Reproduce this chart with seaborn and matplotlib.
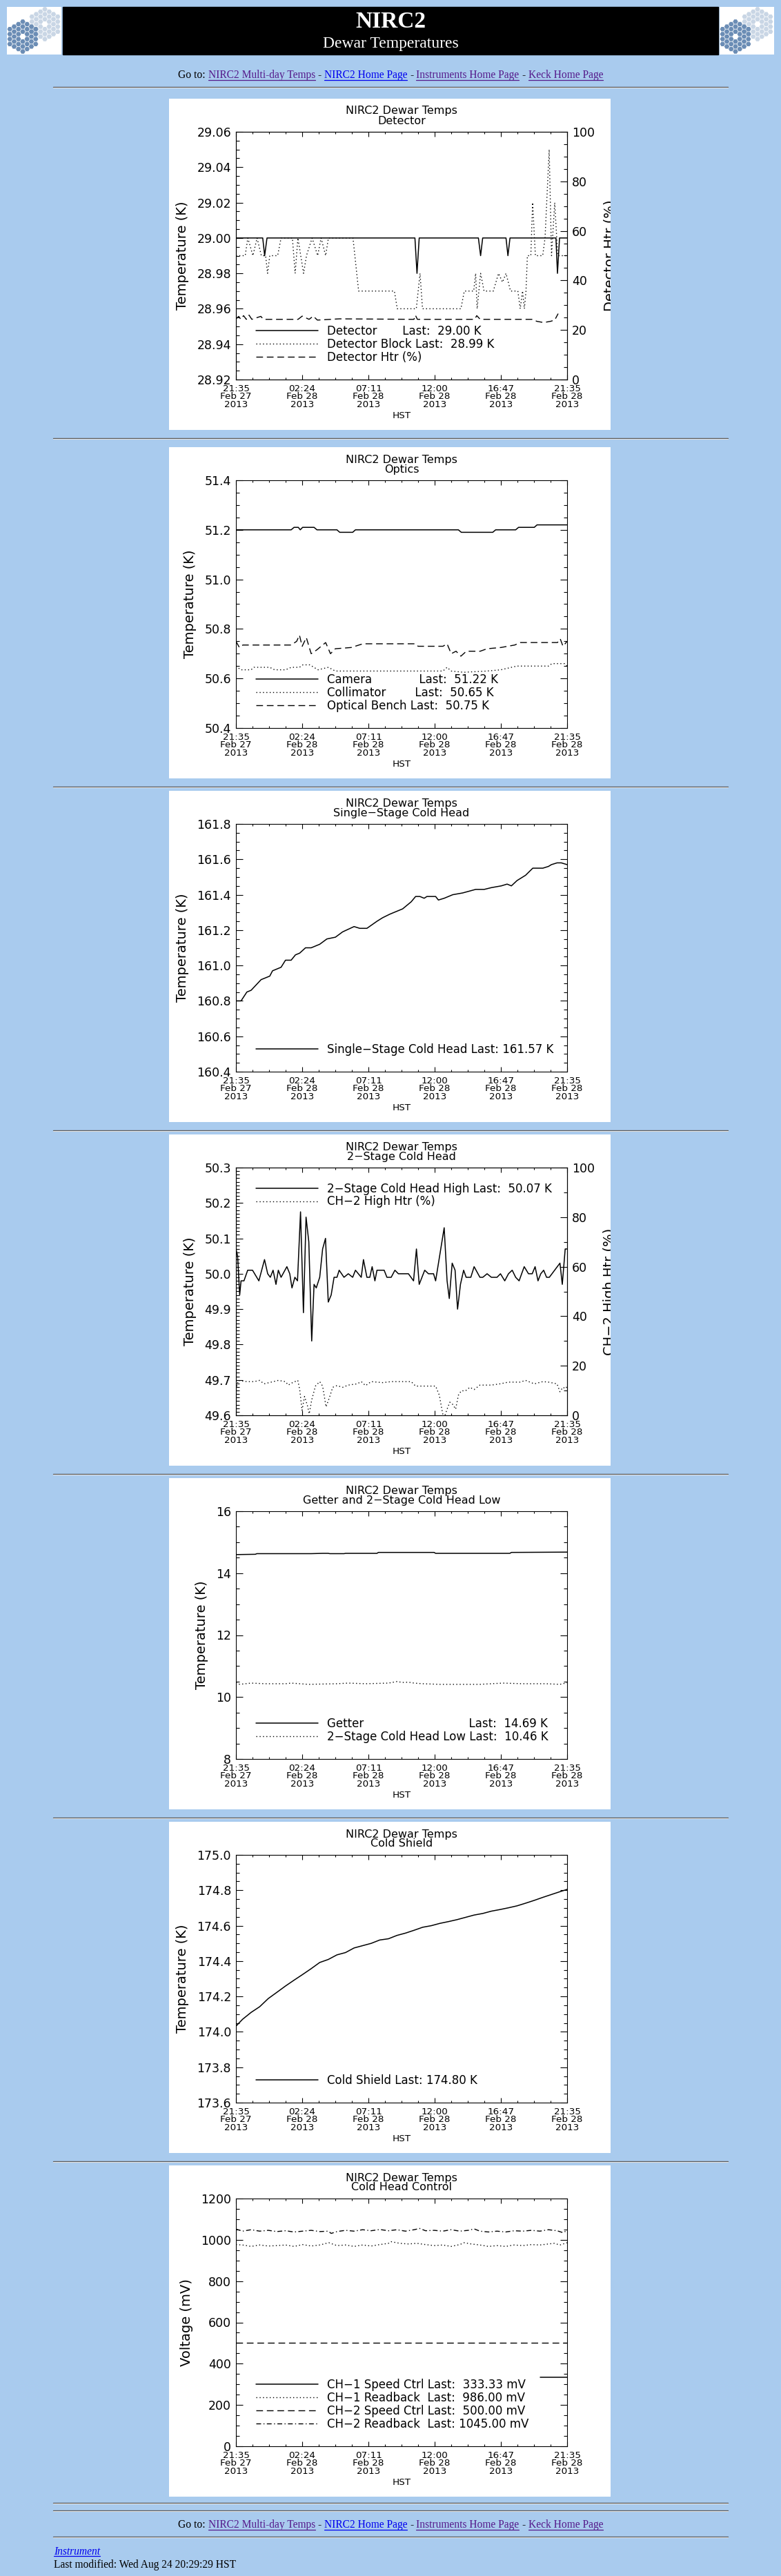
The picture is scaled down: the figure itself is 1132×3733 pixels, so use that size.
import numpy as np
import matplotlib
matplotlib.use("Agg")
import matplotlib.pyplot as plt
import seaborn as sns
from matplotlib.patches import Rectangle, RegularPolygon
from matplotlib.lines import Line2D
from matplotlib.ticker import MultipleLocator, FormatStrFormatter
from matplotlib.transforms import Bbox, TransformedBbox

sns.set_theme(style="ticks", rc={"axes.edgecolor": "black", "xtick.color": "black",
                                 "ytick.color": "black", "text.color": "black",
                                 "axes.labelcolor": "black", "axes.linewidth": 0.8})
plt.rcParams["font.family"] = ["DejaVu Sans"]

# time axis: hours after 21:35 Feb 27 2013 (HST)
x_ticks = [0, 4.8, 9.6, 14.4, 19.2, 24.0]
x_tick_labels = ["21:35\nFeb 27\n2013", "02:24\nFeb 28\n2013", "07:11\nFeb 28\n2013",
                 "12:00\nFeb 28\n2013", "16:47\nFeb 28\n2013", "21:35\nFeb 28\n2013"]

# Detector
det_t = [0, 1.94, 2.08, 2.25, 12.97, 13.12, 13.28, 17.57, 17.73, 17.88,
         19.57, 19.71, 19.86, 23.19, 23.30, 23.45, 24.0]
det_v = [29.00, 29.00, 28.99, 29.00, 29.00, 28.98, 29.00, 29.00, 28.99, 29.00,
         29.00, 28.99, 29.00, 29.00, 28.98, 29.00, 29.00]
block_t = [0, 0.67, 0.86, 1.23, 1.53, 1.84, 2.15, 2.29, 2.45, 3.02, 3.27, 4.09, 4.29,
           4.49, 4.90, 5.11, 5.52, 5.92, 6.17, 6.50, 6.70, 8.48, 8.89, 11.48, 11.69,
           13.07, 13.34, 13.52, 16.30, 16.55, 17.23, 17.37, 17.48, 17.73, 17.98, 18.65,
           19.03, 19.32, 19.57, 19.90, 20.43, 20.60, 20.77, 20.90, 21.02, 21.12, 21.37,
           21.50, 21.70, 22.23, 22.40, 22.70, 22.87, 23.10, 23.32, 24.0]
block_v = [28.99, 28.99, 29.00, 28.99, 29.00, 28.99, 28.99, 28.98, 28.99, 28.99, 29.00,
           29.00, 28.98, 29.00, 28.98, 28.99, 29.00, 28.99, 29.00, 28.99, 29.00, 29.00,
           28.97, 28.97, 28.96, 28.96, 28.98, 28.96, 28.96, 28.97, 28.97, 28.98, 28.96,
           28.98, 28.97, 28.97, 28.98, 28.975, 28.98, 28.97, 28.97, 28.96, 28.97, 28.96,
           28.97, 28.99, 28.99, 29.02, 28.99, 28.99, 29.00, 29.05, 28.99, 29.02, 28.99,
           28.99]
dhtr_t = [0, 0.2, 0.35, 0.55, 0.75, 0.95, 1.15, 1.8, 2.0, 4.5, 4.8, 5.3, 5.6, 5.9, 7.5,
          12.9, 13.0, 13.15, 17.3, 17.45, 17.7, 21.5, 21.8, 22.3, 22.8, 23.1, 23.35]
dhtr_v = [24.5, 25.5, 24.3, 25.8, 24.3, 26.0, 24.3, 25.5, 24.3, 24.3, 25.6, 24.3, 25.6,
          24.0, 24.5, 24.3, 26.0, 24.3, 24.3, 25.8, 24.3, 24.3, 23.5, 23.0, 23.5, 24.0,
          26.6]

# Optics
cam_t = [0, 4.00, 4.21, 4.52, 4.66, 4.83, 5.66, 5.87, 7.32, 7.52, 8.46, 8.66, 16.12,
         16.33, 18.61, 18.82, 20.27, 20.48, 21.62, 21.82, 24.0]
cam_v = [51.20, 51.20, 51.21, 51.21, 51.20, 51.21, 51.21, 51.20, 51.20, 51.19, 51.19,
         51.20, 51.20, 51.19, 51.19, 51.20, 51.20, 51.21, 51.21, 51.22, 51.22]
coll_t = [0, 0.35, 1.1, 1.3, 2.45, 2.8, 3.6, 4.0, 4.6, 4.85, 5.35, 5.95, 6.7, 7.2, 15.0,
          15.3, 15.6, 16.5, 18.2, 19.2, 20.35, 22.65, 22.9, 23.8, 24.0]
coll_v = [50.65, 50.635, 50.635, 50.645, 50.645, 50.635, 50.635, 50.645, 50.645, 50.655,
          50.655, 50.635, 50.645, 50.63, 50.63, 50.645, 50.63, 50.625, 50.63, 50.635,
          50.65, 50.65, 50.66, 50.66, 50.65]
bench_t = [0, 0.25, 0.5, 4.0, 4.4, 4.6, 4.8, 5.1, 5.45, 5.85, 6.5, 6.85, 7.2, 8.35, 9.2,
           13.0, 13.2, 15.0, 15.3, 15.6, 15.95, 16.3, 16.7, 17.7, 18.2, 19.2, 20.2, 20.6,
           23.3, 23.5, 23.7, 24.0]
bench_v = [50.75, 50.725, 50.735, 50.735, 50.75, 50.775, 50.73, 50.765, 50.70, 50.715,
           50.745, 50.70, 50.72, 50.725, 50.74, 50.74, 50.73, 50.73, 50.74, 50.70, 50.71,
           50.69, 50.71, 50.71, 50.72, 50.725, 50.735, 50.745, 50.745, 50.76, 50.73, 50.75]

# Single-stage cold head
ss_t = [0.0, 0.37, 0.79, 1.10, 1.82, 2.45, 2.65, 3.27, 3.59, 4.00, 4.31, 4.62, 5.04, 5.45,
        6.07, 6.59, 7.21, 7.73, 8.56, 8.97, 9.49, 10.22, 10.63, 11.15, 11.46, 12.08,
        12.70, 13.02, 13.33, 13.64, 13.84, 14.47, 14.67, 15.09, 15.40, 15.71, 16.43,
        17.37, 17.99, 18.51, 19.23, 19.65, 19.96, 20.37, 20.99, 21.51, 22.24, 22.65,
        22.86, 23.27, 23.58, 24.00]
ss_v = [160.80, 160.80, 160.85, 160.86, 160.92, 160.94, 160.97, 160.99, 161.03, 161.03,
        161.06, 161.07, 161.10, 161.10, 161.12, 161.15, 161.16, 161.19, 161.22, 161.21,
        161.21, 161.25, 161.27, 161.29, 161.30, 161.32, 161.36, 161.39, 161.39, 161.38,
        161.39, 161.39, 161.37, 161.38, 161.39, 161.40, 161.41, 161.43, 161.43, 161.44,
        161.45, 161.46, 161.45, 161.48, 161.51, 161.55, 161.55, 161.56, 161.57, 161.58,
        161.58, 161.57]

# 2-stage cold head high + heater
ch2_t = [0.0, 0.12, 0.27, 0.37, 0.58, 0.85, 1.20, 1.66, 2.07, 2.30, 2.49, 2.69, 2.90,
         3.07, 3.27, 3.69, 3.90, 4.06, 4.27, 4.46, 4.68, 4.89, 5.08, 5.28, 5.49, 5.66,
         5.82, 6.07, 6.28, 6.49, 6.69, 6.90, 7.11, 7.32, 7.48, 7.83, 8.14, 8.46, 8.66,
         9.08, 9.24, 9.49, 9.70, 9.87, 10.07, 10.22, 10.74, 10.94, 11.25, 11.52, 11.77,
         12.50, 12.87, 13.08, 13.28, 13.68, 13.95, 14.32, 14.47, 15.09, 15.30, 15.46,
         15.67, 15.88, 16.06, 16.27, 16.50, 16.68, 17.02, 17.26, 17.68, 17.89, 18.20,
         18.51, 18.92, 19.17, 19.48, 19.75, 20.02, 20.27, 20.52, 20.89, 21.20, 21.47,
         21.68, 21.89, 22.09, 22.30, 22.51, 22.71, 23.48, 23.65, 23.86, 24.00]
ch2_v = [50.07, 50.05, 49.94, 49.98, 49.98, 50.01, 50.01, 49.98, 50.04, 50.00, 49.99,
         50.01, 49.97, 50.01, 49.99, 50.02, 50.00, 49.96, 49.99, 49.98, 50.175, 49.89,
         50.16, 50.09, 49.81, 49.97, 49.96, 49.99, 50.07, 50.10, 49.92, 49.94, 49.99,
         49.99, 50.01, 49.99, 50.00, 49.99, 50.01, 49.99, 50.04, 49.99, 49.99, 50.02,
         49.98, 50.01, 50.01, 49.99, 49.99, 50.01, 50.00, 50.00, 49.98, 50.07, 49.97,
         50.01, 50.00, 50.00, 49.98, 50.13, 49.98, 49.93, 50.03, 50.01, 49.90, 49.97,
         50.01, 49.99, 49.99, 50.02, 49.99, 49.99, 50.00, 49.99, 49.99, 50.00, 49.98,
         50.00, 50.01, 49.99, 49.98, 50.02, 50.00, 50.00, 50.02, 49.98, 50.00, 50.01,
         49.99, 49.99, 50.03, 49.97, 50.07, 50.07]
htr2_t = [0.0, 0.17, 0.79, 1.31, 1.72, 2.03, 2.55, 3.07, 3.59, 3.79, 4.10, 4.48, 4.62,
          4.79, 4.97, 5.18, 5.31, 5.49, 5.76, 6.07, 6.28, 6.53, 6.80, 7.01, 7.32, 7.73,
          8.14, 8.77, 9.08, 9.39, 9.80, 10.63, 11.25, 12.70, 13.02, 14.47, 14.74, 14.98,
          15.15, 15.30, 15.50, 15.71, 15.92, 16.12, 16.33, 16.64, 16.95, 17.26, 17.68,
          18.51, 19.13, 19.75, 20.58, 20.99, 21.62, 22.24, 22.65, 23.27, 23.48, 23.69,
          23.90, 24.00]
htr2_v = [10.4, 14.1, 13.6, 13.6, 14.1, 12.7, 13.4, 14.1, 13.6, 12.2, 13.2, 14.1, 10.4,
          2.0, 7.6, 3.9, 0.6, 6.2, 11.8, 13.6, 11.8, 3.4, 7.6, 11.3, 12.0, 11.3, 12.2,
          12.7, 13.6, 12.0, 13.6, 13.2, 13.6, 13.6, 11.8, 11.8, 8.1, 0.6, 0.0, 2.5, 5.3,
          4.4, 2.5, 8.1, 9.9, 9.9, 11.3, 10.4, 12.2, 12.2, 12.7, 13.4, 13.4, 14.1, 12.7,
          13.6, 13.4, 12.7, 9.5, 11.3, 10.8, 11.8]

# Getter and 2-stage cold head low
get_t = [0.0, 1.41, 1.51, 5.45, 6.28, 6.69, 6.80, 7.83, 7.94, 10.22, 10.32, 14.36, 14.47,
         19.85, 19.96, 24.0]
get_v = [14.60, 14.61, 14.63, 14.63, 14.64, 14.64, 14.63, 14.63, 14.64, 14.64, 14.67,
         14.67, 14.64, 14.64, 14.67, 14.68]
low_t = [0.0, 0.27, 1.10, 2.13, 3.59, 4.00, 5.24, 7.32, 8.14, 9.39, 11.05, 11.67, 12.08,
         12.50, 12.91, 13.53, 14.78, 17.68, 19.34, 20.79, 22.45, 23.48, 24.0]
low_v = [10.47, 10.41, 10.45, 10.43, 10.43, 10.45, 10.41, 10.43, 10.45, 10.43, 10.45,
         10.50, 10.47, 10.48, 10.45, 10.43, 10.41, 10.41, 10.45, 10.43, 10.43, 10.41, 10.46]

# Cold shield
cs_t = [0.0, 0.48, 1.10, 1.72, 2.34, 2.96, 3.59, 4.21, 4.83, 5.45, 6.07, 6.69, 7.32, 7.94,
        8.56, 9.18, 9.80, 10.42, 11.05, 11.67, 12.29, 12.91, 13.53, 14.16, 14.78, 15.40,
        16.02, 16.64, 17.26, 17.89, 18.51, 19.13, 19.75, 20.37, 20.99, 21.62, 22.24,
        22.86, 23.48, 24.0]
cs_v = [174.032, 174.071, 174.110, 174.142, 174.188, 174.223, 174.259, 174.292, 174.324,
        174.357, 174.392, 174.409, 174.435, 174.448, 174.474, 174.487, 174.500, 174.519,
        174.526, 174.545, 174.558, 174.574, 174.591, 174.600, 174.613, 174.623, 174.634,
        174.647, 174.660, 174.669, 174.682, 174.691, 174.701, 174.712, 174.727, 174.743,
        174.760, 174.776, 174.792, 174.805]

# Cold head control (mV)
sp1_t = [22.03, 24.0]
sp1_v = [333.33, 333.33]
rb1_t = [0.0, 0.48, 1.10, 1.72, 2.34, 2.96, 3.59, 4.21, 4.83, 5.45, 6.07, 6.73, 7.32,
         7.94, 8.56, 9.18, 9.80, 10.42, 11.05, 11.25, 11.87, 12.49, 13.11, 13.74, 14.36,
         14.98, 15.60, 16.22, 16.53, 17.05, 17.68, 18.30, 18.92, 19.54, 20.16, 20.79,
         21.41, 22.03, 22.65, 23.06, 23.48, 24.0]
rb1_v = [977, 975, 968, 975, 970, 972, 975, 968, 977, 970, 975, 986, 972, 975, 968, 975,
         970, 977, 983, 991, 983, 980, 983, 977, 972, 975, 968, 977, 986, 980, 975, 968,
         972, 968, 975, 972, 977, 975, 980, 983, 975, 986]
sp2_t = [0.0, 24.0]
sp2_v = [500.0, 500.0]
rb2_t = [0.0, 0.48, 1.10, 1.72, 2.34, 2.96, 3.59, 4.21, 4.83, 5.45, 6.07, 6.69, 6.90,
         7.32, 7.94, 8.56, 9.18, 9.80, 10.42, 11.05, 11.67, 12.29, 12.91, 13.32, 13.74,
         14.36, 14.98, 15.60, 16.22, 16.84, 17.26, 17.68, 18.30, 18.92, 19.54, 20.16,
         20.79, 21.41, 22.03, 22.65, 23.27, 23.69, 24.0]
rb2_v = [1052, 1042, 1049, 1042, 1046, 1040, 1044, 1038, 1042, 1046, 1040, 1042, 1031,
         1040, 1046, 1042, 1049, 1044, 1050, 1044, 1049, 1042, 1049, 1055, 1044, 1046,
         1042, 1049, 1042, 1046, 1053, 1042, 1038, 1042, 1038, 1044, 1042, 1046, 1042,
         1049, 1044, 1035, 1045]

W, H = 1132, 3733
PAGE_BG = "#a9cbee"
STYLES = {"-": "-", ":": (0, (1, 2.5)), "--": (0, (7, 4)), "-.": (0, (5, 2.5, 1, 2.5))}
PANEL_TOPS = [143, 648, 1146, 1644, 2142, 2640, 3138]

fig = plt.figure(figsize=(W / 100, H / 100), dpi=100, facecolor=PAGE_BG)
renderer = fig.canvas.get_renderer()


def fx(x):
    return x / W


def fy(y):
    return 1 - y / H


def rect(x0, y0, x1, y1):
    return [x0 / W, 1 - y1 / H, (x1 - x0) / W, (y1 - y0) / H]


def hr(y):
    fig.add_artist(Line2D([fx(77), fx(1055)], [fy(y), fy(y)], color="#555555", lw=1.0))
    fig.add_artist(Line2D([fx(77), fx(1055)], [fy(y + 1.2), fy(y + 1.2)], color="#e4e4e4", lw=0.8))


def link_row(y_base, pieces, size=11.2):
    texts = [fig.text(0, fy(y_base), s, family="Liberation Serif", size=size, color=c,
                      va="baseline", ha="left") for s, c, _ in pieces]
    widths = [t.get_window_extent(renderer).width for t in texts]
    gap = 4
    x = 566 - (sum(widths) + gap * (len(widths) - 1)) / 2
    for t, w, (_, c, link) in zip(texts, widths, pieces):
        t.set_x(fx(x))
        if link:
            fig.add_artist(Line2D([fx(x), fx(x + w)], [fy(y_base + 2.5)] * 2, color=c, lw=0.9))
        x += w + gap


def draw_logo(x0):
    lax = fig.add_axes(rect(x0, 10, x0 + 79, 79))
    lax.set_xlim(x0, x0 + 79)
    lax.set_ylim(79, 10)
    lax.set_facecolor("white")
    lax.set_xticks([])
    lax.set_yticks([])
    for s in lax.spines.values():
        s.set_visible(False)
    for (cx, cy), col in [((x0 + 55, 35), "#c9d6e5"), ((x0 + 23, 53), "#6b8db5")]:
        for q in range(-3, 4):
            for r in range(-3, 4):
                if abs(q + r) > 3 or (q == 0 and r == 0):
                    continue
                lax.add_patch(RegularPolygon((cx + 6.25 * q, cy + 7.2 * (r + q / 2)), 6,
                                             radius=3.7, orientation=np.pi / 6,
                                             color=col, lw=0))


# header
fig.add_artist(Rectangle((fx(91), fy(79)), (1041 - 91) / W, 69 / H,
                         transform=fig.transFigure, color="black", zorder=-1))
draw_logo(10)
draw_logo(1043)
fig.text(fx(566), fy(32), "NIRC2", family="Liberation Serif", weight="bold", size=24,
         color="white", ha="center", va="center")
fig.text(fx(566), fy(63), "Dewar Temperatures", family="Liberation Serif", size=17,
         color="white", ha="center", va="center")

VISITED, LINK = "#551a8b", "#0000ee"
goto = [("Go to:", "black", False), ("NIRC2 Multi-day Temps", VISITED, True), ("-", "black", False),
        ("NIRC2 Home Page", LINK, True), ("-", "black", False),
        ("Instruments Home Page", VISITED, True), ("-", "black", False),
        ("Keck Home Page", VISITED, True)]
link_row(113, goto)
hr(126)


def make_chart(top, subtitle, ylim, ymajor, yminor, yfmt, ylabel, twin=None):
    fig.add_artist(Rectangle((fx(245), fy(top + 480)), 640 / W, 480 / H,
                             transform=fig.transFigure, facecolor="white",
                             edgecolor="none", zorder=-1))
    fig.text(fx(582), fy(top + 18), "NIRC2 Dewar Temps", size=11.5, ha="center", va="center")
    fig.text(fx(582), fy(top + 32), subtitle, size=11.5, ha="center", va="center")
    ax = fig.add_axes(rect(342, top + 48, 822, top + 407))
    ax.set_facecolor("white")
    ax.set_xlim(0, 24)
    ax.set_xticks(x_ticks, labels=x_tick_labels, fontsize=9.7, linespacing=0.85)
    ax.xaxis.set_minor_locator(MultipleLocator(1.2))
    ax.set_ylim(*ylim)
    ax.yaxis.set_major_locator(MultipleLocator(ymajor))
    ax.yaxis.set_minor_locator(MultipleLocator(yminor))
    ax.yaxis.set_major_formatter(FormatStrFormatter(yfmt))
    ax.tick_params(axis="x", which="both", direction="in", top=True, bottom=True, pad=5)
    ax.tick_params(axis="x", which="major", length=5, width=0.8)
    ax.tick_params(axis="x", which="minor", length=2.5, width=0.8)
    ax.tick_params(axis="y", which="both", direction="in", left=True, right=twin is None,
                   pad=5, labelsize=12.5)
    ax.tick_params(axis="y", which="major", length=7.2, width=0.8)
    ax.tick_params(axis="y", which="minor", length=3.6, width=0.8)
    ax.set_xlabel("HST", fontsize=9.7, labelpad=2)
    ax.set_ylabel(ylabel, fontsize=14, labelpad=8)
    ax2 = None
    if twin is not None:
        ax2 = ax.twinx()
        ax2.set_ylim(0, 100)
        ax2.yaxis.set_major_locator(MultipleLocator(20))
        ax2.yaxis.set_minor_locator(MultipleLocator(twin[1]))
        ax2.yaxis.set_major_formatter(FormatStrFormatter("%d"))
        ax2.tick_params(axis="y", which="both", direction="in", right=True, left=False,
                        pad=5, labelsize=12.5)
        ax2.tick_params(axis="y", which="major", length=7.2, width=0.8)
        ax2.tick_params(axis="y", which="minor", length=3.6, width=0.8)
        ax2.set_ylabel(twin[0], fontsize=14, labelpad=9)
        clip = TransformedBbox(Bbox.from_extents(fx(245), fy(top + 480), fx(885), fy(top)),
                               fig.transFigure)
        ax2.yaxis.label.set_clip_box(clip)
        ax2.yaxis.label.set_clip_on(True)
    return ax, ax2


def trace(ax, t, v, style):
    sns.lineplot(x=t, y=v, ax=ax, color="black", linewidth=1.1 if style == "-" else 1.0,
                 linestyle=STYLES[style], estimator=None, sort=False, legend=False)


def key(ax, labels, ax2=None, upper=False):
    handles = list(ax.get_lines()) + (list(ax2.get_lines()) if ax2 is not None else [])
    ax.legend(handles, labels, loc="upper left" if upper else "lower left",
              bbox_to_anchor=(0.06, 0.94) if upper else (0.06, 0.065),
              borderaxespad=0, borderpad=0, frameon=False, handlelength=5.4,
              handletextpad=0.8, labelspacing=0.05, fontsize=12)


# 1 Detector
ax, ax2 = make_chart(PANEL_TOPS[0], "Detector", (28.92, 29.06), 0.02, 0.005, "%.2f",
                     "Temperature (K)", twin=("Detector Htr (%)", 5))
trace(ax, det_t, det_v, "-")
trace(ax, block_t, block_v, ":")
trace(ax2, dhtr_t, dhtr_v, "--")
key(ax, ["Detector" + " " * 7 + "Last:  29.00 K", "Detector Block Last:  28.99 K",
         "Detector Htr (%)"], ax2)

# 2 Optics
ax, _ = make_chart(PANEL_TOPS[1], "Optics", (50.4, 51.4), 0.2, 0.05, "%.1f", "Temperature (K)")
trace(ax, cam_t, cam_v, "-")
trace(ax, coll_t, coll_v, ":")
trace(ax, bench_t, bench_v, "--")
key(ax, ["Camera" + " " * 13 + "Last:  51.22 K", "Collimator" + " " * 8 + "Last:  50.65 K",
         "Optical Bench Last:  50.75 K"])

# 3 Single-stage cold head
ax, _ = make_chart(PANEL_TOPS[2], "Single\u2212Stage Cold Head", (160.4, 161.8), 0.2, 0.05,
                   "%.1f", "Temperature (K)")
trace(ax, ss_t, ss_v, "-")
key(ax, ["Single\u2212Stage Cold Head Last: 161.57 K"])

# 4 2-stage cold head
ax, ax2 = make_chart(PANEL_TOPS[3], "2\u2212Stage Cold Head", (49.6, 50.3), 0.1, 0.01, "%.1f",
                     "Temperature (K)", twin=("CH\u22122 High Htr (%)", 10))
trace(ax, ch2_t, ch2_v, "-")
trace(ax2, htr2_t, htr2_v, ":")
key(ax, ["2\u2212Stage Cold Head High Last:  50.07 K", "CH\u22122 High Htr (%)"], ax2, upper=True)

# 5 Getter
ax, _ = make_chart(PANEL_TOPS[4], "Getter and 2\u2212Stage Cold Head Low", (8, 16), 2, 0.5, "%d",
                   "Temperature (K)")
trace(ax, get_t, get_v, "-")
trace(ax, low_t, low_v, ":")
key(ax, ["Getter" + " " * 29 + "Last:  14.69 K", "2\u2212Stage Cold Head Low Last:  10.46 K"])

# 6 Cold shield
ax, _ = make_chart(PANEL_TOPS[5], "Cold Shield", (173.6, 175.0), 0.2, 0.05, "%.1f",
                   "Temperature (K)")
trace(ax, cs_t, cs_v, "-")
key(ax, ["Cold Shield Last: 174.80 K"])

# 7 Cold head control
ax, _ = make_chart(PANEL_TOPS[6], "Cold Head Control", (0, 1200), 200, 50, "%d", "Voltage (mV)")
trace(ax, sp1_t, sp1_v, "-")
trace(ax, rb1_t, rb1_v, ":")
trace(ax, sp2_t, sp2_v, "--")
trace(ax, rb2_t, rb2_v, "-.")
key(ax, ["CH\u22121 Speed Ctrl Last:  333.33 mV", "CH\u22121 Readback  Last:  986.00 mV",
         "CH\u22122 Speed Ctrl Last:  500.00 mV", "CH\u22122 Readback  Last: 1045.00 mV"])

for top in PANEL_TOPS[:-1]:
    hr(top + 480 + 12)
hr(3627)
hr(3638)
link_row(3663, goto)
hr(3676)

t = fig.text(fx(78), fy(3702), "Instrument", family="Liberation Serif", style="italic",
             size=11.2, color=LINK, va="baseline", ha="left")
w = t.get_window_extent(renderer).width
fig.add_artist(Line2D([fx(78), fx(78 + w)], [fy(3704)] * 2, color=LINK, lw=0.9))
fig.text(fx(78), fy(3721), "Last modified: Wed Aug 24 20:29:29 HST", family="Liberation Serif",
         size=11.2, color="black", va="baseline", ha="left")

fig.savefig("out.png", dpi=100, facecolor=PAGE_BG)
